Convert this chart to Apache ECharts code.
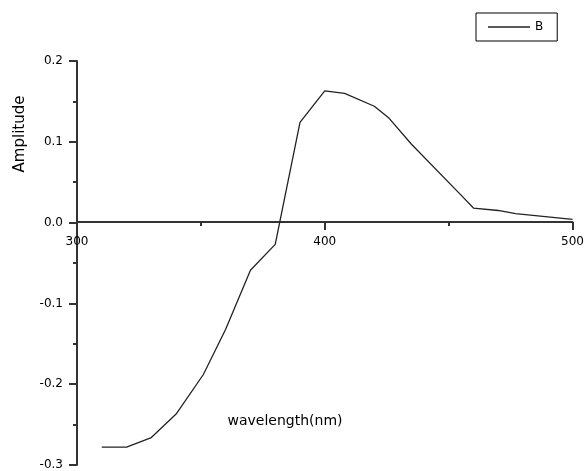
<!DOCTYPE html>
<html>
<head>
<meta charset="utf-8">
<script src="https://cdn.jsdelivr.net/npm/echarts@6/dist/echarts.min.js"></script>
<style>
  html, body { margin: 0; padding: 0; background: #fff; }
  #chart { width: 587px; height: 471px; }
</style>
</head>
<body>
<div id="chart"></div>
<script>
// wavelength (nm) and amplitude
const wavelength = [310, 320, 330, 340, 351, 360, 370, 380, 390, 400, 408, 420, 426, 435, 455, 460, 470, 477, 500];
const amplitude = [-0.278, -0.278, -0.266, -0.237, -0.188, -0.132, -0.059, -0.027, 0.124, 0.163, 0.160, 0.144, 0.129, 0.097, 0.034, 0.018, 0.015, 0.011, 0.004];
const seriesName = "B";

const font = "DejaVu Sans";
let chart = echarts.init(document.getElementById("chart"));

// x axis sits on y = 0: grid height 405px spans 0.5, zero is 0.3 above bottom
const zeroOffset = -Math.round(405 * 0.3 / 0.5);

let option = {
  animation: false,
  grid: { left: 77, right: 10, top: 61, bottom: 5 },
  legend: {
    left: 476,
    top: 13,
    orient: "vertical",
    padding: [8, 14, 8, 12],
    borderColor: "#000",
    borderWidth: 1,
    icon: "rect",
    itemWidth: 42,
    itemHeight: 1.3,
    textStyle: { fontFamily: font, fontSize: 12, color: "#000" },
    data: [seriesName]
  },
  xAxis: {
    type: "value",
    min: 300,
    max: 500,
    interval: 100,
    offset: zeroOffset,
    axisLine: { onZero: false, lineStyle: { color: "#333", width: 2 } },
    axisTick: { length: 8, lineStyle: { color: "#333", width: 2 } },
    minorTick: { show: true, splitNumber: 2, length: 4, lineStyle: { color: "#333", width: 2 } },
    axisLabel: { margin: 14, fontFamily: font, fontSize: 12, color: "#000", showMinLabel: true, showMaxLabel: true },
    splitLine: { show: false }
  },
  yAxis: {
    type: "value",
    min: -0.3,
    max: 0.2,
    interval: 0.1,
    axisLine: { show: true, onZero: false, lineStyle: { color: "#333", width: 2 } },
    axisTick: { show: true, length: 8, lineStyle: { color: "#333", width: 2 } },
    minorTick: { show: true, splitNumber: 2, length: 4, lineStyle: { color: "#333", width: 2 } },
    axisLabel: {
      margin: 14,
      fontFamily: font,
      fontSize: 12,
      color: "#000",
      formatter: v => v.toFixed(1)
    },
    splitLine: { show: false }
  },
  graphic: [
    {
      type: "text",
      x: 20,
      y: 134,
      rotation: Math.PI / 2,
      style: {
        text: "Amplitude",
        font: "15px " + font,
        fill: "#000",
        align: "center",
        verticalAlign: "middle"
      }
    },
    {
      type: "text",
      x: 285,
      y: 421,
      style: {
        text: "wavelength(nm)",
        font: "14px " + font,
        fill: "#000",
        align: "center",
        verticalAlign: "middle"
      }
    }
  ],
  series: [
    {
      name: seriesName,
      type: "line",
      symbol: "none",
      color: "#222",
      lineStyle: { color: "#222", width: 1.3 },
      data: wavelength.map((w, i) => [w, amplitude[i]])
    }
  ]
};

chart.setOption(option);
</script>
</body>
</html>
